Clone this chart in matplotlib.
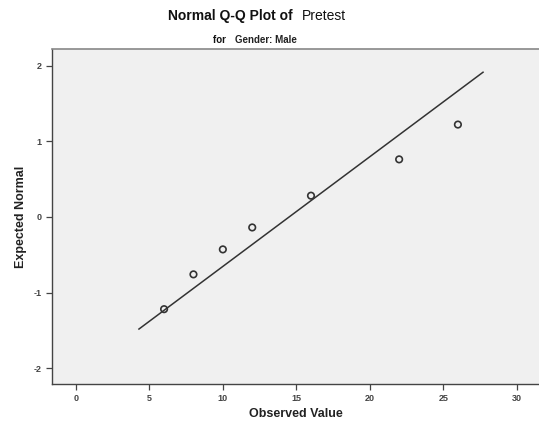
import matplotlib
matplotlib.use("Agg")
import matplotlib.pyplot as plt
import numpy as np

plt.rcParams['font.family'] = ['Liberation Sans', 'DejaVu Sans']
plt.rcParams['axes.unicode_minus'] = False

# data
observed = [6, 8, 10, 12, 16, 22, 26]
expected = [-1.22, -0.76, -0.43, -0.14, 0.28, 0.76, 1.22]
ref_mean = 14.52
ref_sd = 6.90
line_x = np.array([4.29, 27.71])
line_y = (line_x - ref_mean) / ref_sd

xticks = [0, 5, 10, 15, 20, 25, 30]
yticks = [-2, -1, 0, 1, 2]

fig = plt.figure(figsize=(5.39, 4.23), dpi=100)
ax = fig.add_axes([0.0959, 0.0922, 0.9041, 0.7913])
ax.set_facecolor('#f0f0f0')

ax.plot(line_x, line_y, color='#333333', lw=1.1, zorder=2)
ax.scatter(observed, expected, s=22, facecolors='none', edgecolors='#333333',
           linewidths=1.2, zorder=3)

ax.set_xlim(-1.65, 31.52)
ax.set_ylim(-2.209, 2.215)
ax.set_xticks(xticks)
ax.set_yticks(yticks)
ax.tick_params(labelsize=6.5, colors='#444444', length=4, width=0.9)
for lab in ax.get_xticklabels() + ax.get_yticklabels():
    lab.set_fontweight('bold')

for s in ['left', 'bottom']:
    ax.spines[s].set_color('#444444')
    ax.spines[s].set_linewidth(1.0)
ax.spines['top'].set_color('#888888')
ax.spines['top'].set_linewidth(1.2)
ax.spines['right'].set_visible(False)

ax.set_xlabel('Observed Value', fontsize=9, fontweight='bold', color='#222222')
ax.set_ylabel('Expected Normal', fontsize=9, fontweight='bold', color='#222222')
ax.xaxis.set_label_coords((296 - 51.7) / (539 - 51.7), -(408.5 - 384) / 335.0)
ax.yaxis.set_label_coords(-(51.7 - 27) / (539 - 51.7), (384 - 216.9) / 335.0)

# title in two weights
fig.text(297 / 539, 1 - 15.7 / 423, 'Normal Q-Q Plot of ', fontsize=10,
         fontweight='bold', ha='right', va='center', color='#111111')
fig.text(302 / 539, 1 - 15.7 / 423, 'Pretest', fontsize=10,
         ha='left', va='center', color='#111111')
fig.text(229 / 539, 1 - 40 / 423, 'for ', fontsize=7, fontweight='bold',
         ha='right', va='center', color='#111111')
fig.text(235 / 539, 1 - 40 / 423, 'Gender: Male', fontsize=7,
         fontweight='semibold', ha='left', va='center', color='#222222')

fig.savefig('out.png', dpi=100)
